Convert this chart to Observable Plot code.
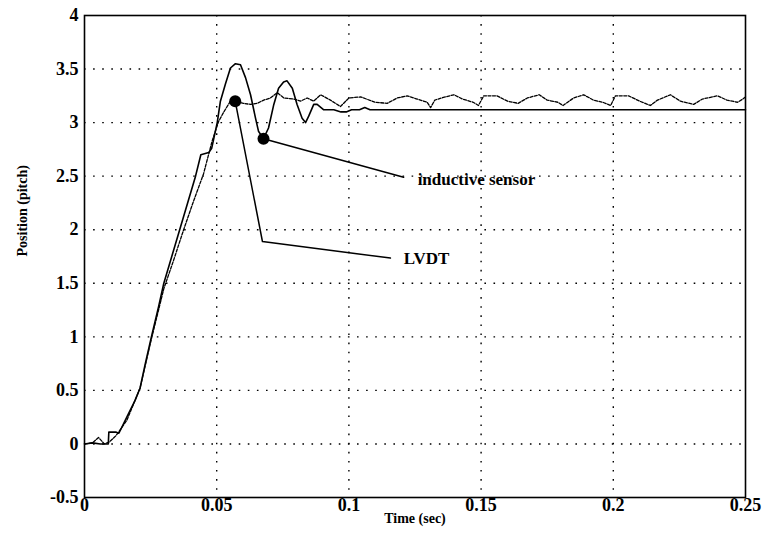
<!DOCTYPE html>
<html>
<head>
<meta charset="utf-8">
<script src="https://cdn.jsdelivr.net/npm/d3@7"></script>
<script src="https://cdn.jsdelivr.net/npm/@observablehq/plot@0.6"></script>
<style>
  html, body { margin: 0; padding: 0; background: #fff; }
  #chart svg text { font-family: 'Liberation Serif', 'Times New Roman', serif; font-weight: bold; }
</style>
</head>
<body>
<div id="chart"></div>
<script>
// Tick values
const xTicks = [0, 0.05, 0.1, 0.15, 0.2, 0.25];
const yTicks = [-0.5, 0, 0.5, 1, 1.5, 2, 2.5, 3, 3.5, 4];

// Inductive sensor (solid, oscillating)
const inductiveT = [0,0.003,0.006,0.009,0.0092,0.012,0.013,0.016,0.019,0.021,
  0.023,0.0253,0.028,0.030,0.033,0.036,0.039,0.042,0.044,0.047,
  0.0481,0.0502,0.0514,0.0533,0.0552,0.0571,0.059,0.0609,0.0628,0.0647,
  0.0658,0.0677,0.0696,0.0716,0.0734,0.0753,0.0766,0.0786,0.0804,0.0823,
  0.0836,0.0848,0.0867,0.088,0.0905,0.0943,0.097,0.099,0.101,0.104,
  0.106,0.108,0.11,0.25];
const inductiveY = [0,0.01,0,0,0.11,0.11,0.1,0.25,0.4,0.52,
  0.75,1.0,1.28,1.5,1.75,2.0,2.25,2.5,2.7,2.72,
  2.76,3.0,3.2,3.36,3.51,3.55,3.54,3.42,3.26,3.04,
  2.92,2.85,2.95,3.17,3.32,3.38,3.39,3.32,3.17,3.04,
  3.0,3.06,3.17,3.17,3.12,3.12,3.1,3.1,3.12,3.12,
  3.14,3.12,3.12,3.12];

// LVDT (dotted, noisy)
const lvdtT = [0,0.003,0.0053,0.0075,0.0095,0.012,0.016,0.019,0.021,0.0253,
  0.030,0.0335,0.0375,0.041,0.045,0.0483,0.0507,0.0527,0.0552,0.0571,
  0.0602,0.0628,0.0653,0.0678,0.0703,0.0729,0.0754,0.0792,0.0817,0.0842,
  0.0867,0.0893,0.093,0.0968,0.1,0.1044,0.11,0.1145,0.1183,0.122,
  0.1258,0.1296,0.1309,0.1325,0.135,0.1397,0.143,0.147,0.149,0.151,
  0.156,0.16,0.164,0.1675,0.172,0.175,0.179,0.181,0.185,0.1888,
  0.1925,0.196,0.199,0.2008,0.2058,0.21,0.214,0.2167,0.2216,0.2254,
  0.2304,0.2337,0.2394,0.243,0.247,0.249,0.25];
const lvdtY = [0,0.01,0.06,0,0.02,0.08,0.22,0.4,0.52,0.98,
  1.45,1.7,2.0,2.25,2.52,2.83,3.01,3.1,3.2,3.2,
  3.18,3.17,3.18,3.21,3.23,3.28,3.23,3.22,3.2,3.23,
  3.2,3.26,3.21,3.15,3.23,3.24,3.19,3.18,3.23,3.25,
  3.22,3.19,3.14,3.21,3.23,3.26,3.22,3.19,3.16,3.25,
  3.25,3.2,3.18,3.23,3.26,3.21,3.19,3.16,3.23,3.26,
  3.21,3.19,3.16,3.25,3.25,3.2,3.16,3.21,3.26,3.2,
  3.17,3.22,3.25,3.21,3.19,3.22,3.24];

// Annotation markers and leaders
const markerT = [0.057, 0.0677];
const markerY = [3.2, 2.85];
const leaderLvdtT = [0.057, 0.0673, 0.1157];
const leaderLvdtY = [3.2, 1.89, 1.735];
const leaderIndT = [0.0677, 0.1207];
const leaderIndY = [2.85, 2.49];
const labelText = ["inductive sensor", "LVDT"];
const labelT = [0.126, 0.1207];
const labelY = [2.47, 1.735];

const toPts = (ts, ys) => ts.map((t, i) => ({t, y: ys[i]}));
const inductive = toPts(inductiveT, inductiveY);
const lvdt = toPts(lvdtT, lvdtY);
const markers = toPts(markerT, markerY);
const leadL = toPts(leaderLvdtT, leaderLvdtY);
const leadI = toPts(leaderIndT, leaderIndY);
const labels = labelText.map((s, i) => ({s, t: labelT[i], y: labelY[i]}));

const fmt = d => String(d);
const serif = "'Liberation Serif', 'Times New Roman', serif";

const chart = Plot.plot({
  width: 764,
  height: 558,
  marginLeft: 84,
  marginRight: 19,
  marginTop: 15,
  marginBottom: 61,
  style: {fontFamily: serif, fontWeight: "bold", fontSize: "18px", color: "black", background: "white"},
  x: {domain: [0, 0.25]},
  y: {domain: [-0.5, 4]},
  marks: [
    Plot.ruleX(xTicks.slice(1, -1), {stroke: "black", strokeWidth: 1.4, strokeDasharray: "1.6,7.5", strokeOpacity: 1}),
    Plot.ruleY(yTicks.slice(1, -1), {stroke: "black", strokeWidth: 1.4, strokeDasharray: "1.6,7.5", strokeOpacity: 1}),
    Plot.axisX({ticks: xTicks, tickSize: 0, tickPadding: 1, tickFormat: fmt, label: null, fontSize: 18, fill: "black"}),
    Plot.axisY({ticks: yTicks, tickSize: 0, tickPadding: 6, tickFormat: fmt, label: null, fontSize: 18, fill: "black"}),
    Plot.frame({stroke: "black", strokeWidth: 1.6}),
    Plot.line(lvdt, {x: "t", y: "y", stroke: "black", strokeWidth: 1.3, strokeDasharray: "3,1.5"}),
    Plot.line(inductive, {x: "t", y: "y", stroke: "black", strokeWidth: 1.6}),
    Plot.line(leadL, {x: "t", y: "y", stroke: "black", strokeWidth: 1.5}),
    Plot.line(leadI, {x: "t", y: "y", stroke: "black", strokeWidth: 1.5}),
    Plot.dot(markers, {x: "t", y: "y", r: 6, fill: "black", stroke: "none"}),
    Plot.text(labels, {x: "t", y: "y", text: "s", textAnchor: "start", fontSize: 17, fill: "black"}),
    Plot.text(["Time (sec)"], {frameAnchor: "bottom", dy: 25, fontSize: 14, fill: "black"}),
    Plot.text(["Position (pitch)"], {frameAnchor: "left", dx: -62, rotate: -90, fontSize: 14, fill: "black"})
  ]
});
document.getElementById("chart").appendChild(chart);
</script>
</body>
</html>
